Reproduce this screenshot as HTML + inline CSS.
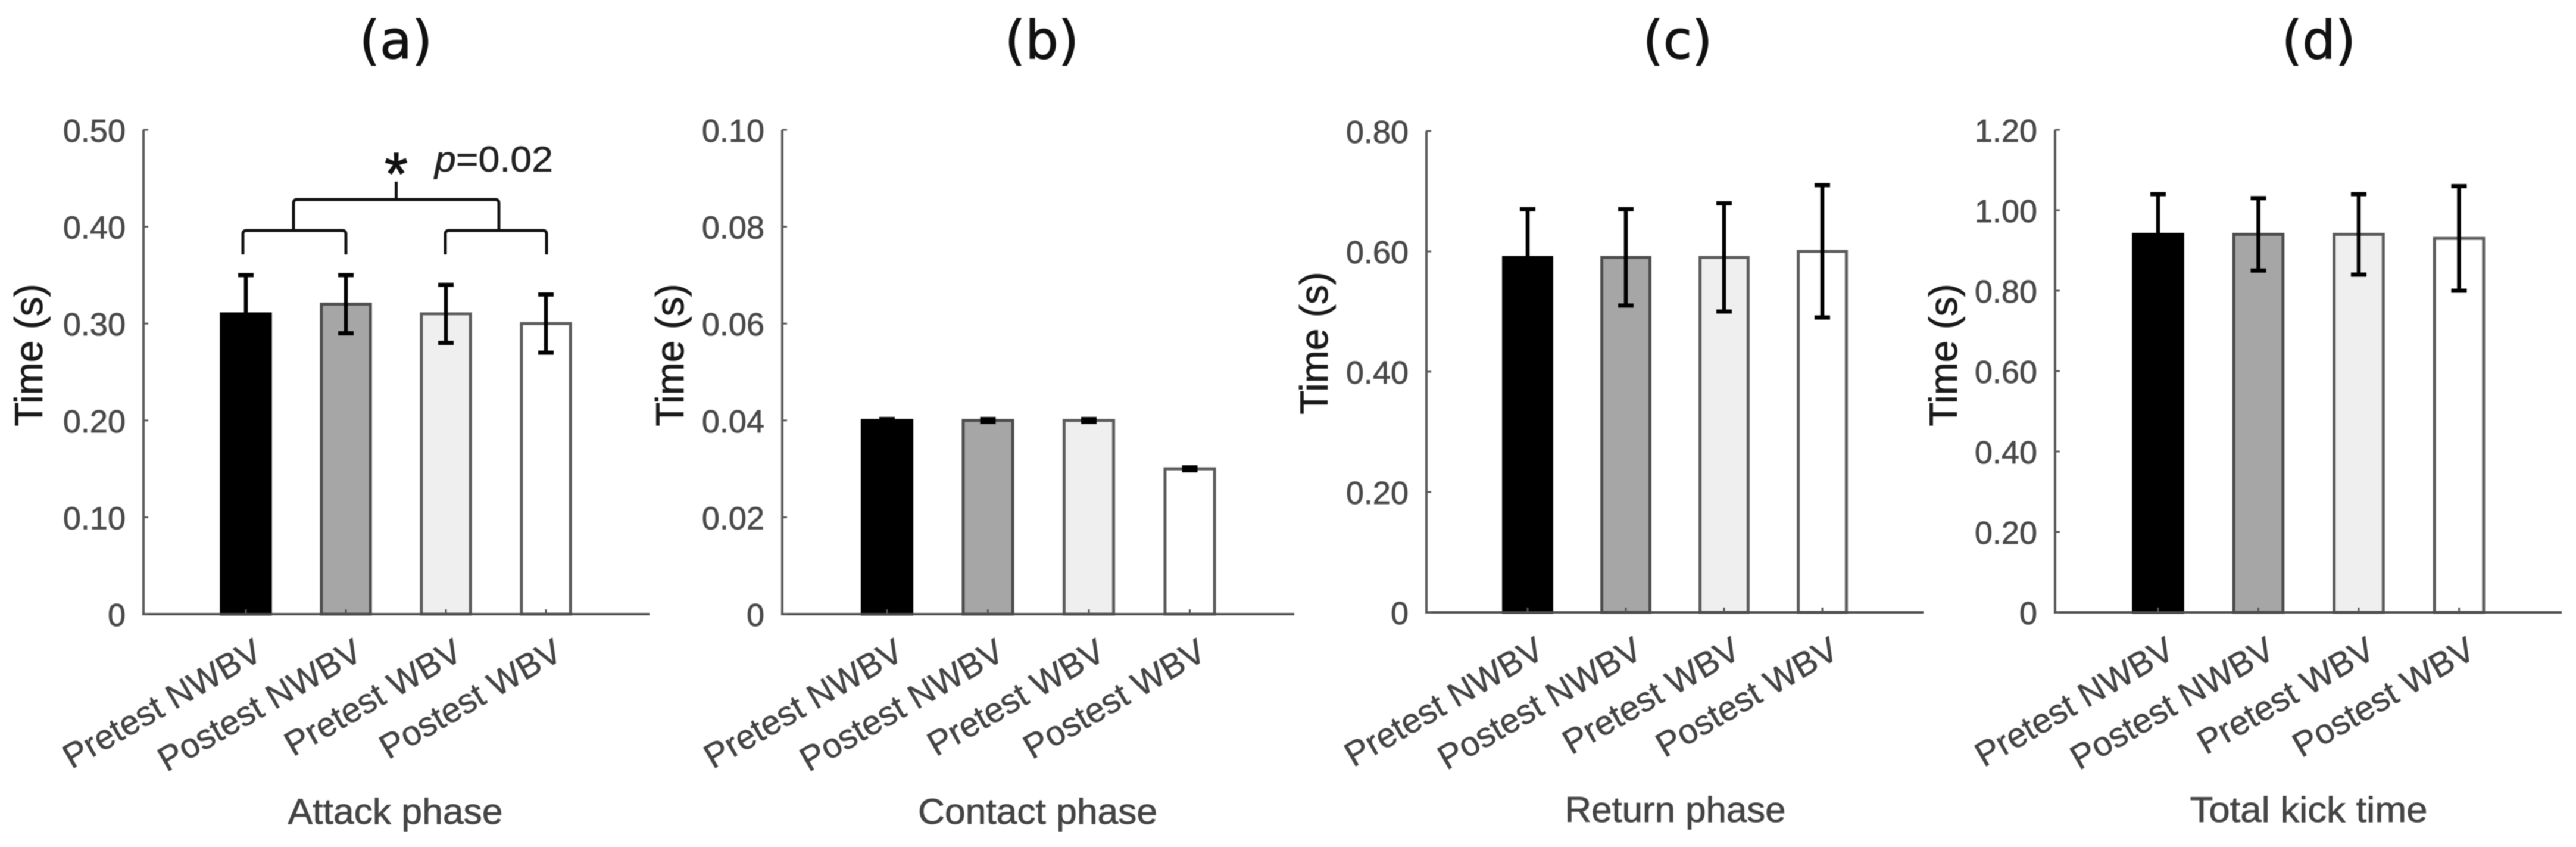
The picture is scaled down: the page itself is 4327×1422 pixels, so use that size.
<!DOCTYPE html>
<html lang="en">
<head>
<meta charset="utf-8">
<title>Kick phase times</title>
<style>
  html, body { margin: 0; padding: 0; background: #fff; width: 4327px; height: 1422px; overflow: hidden; }
  svg { display: block; filter: blur(0.9px); }
  text { font-family: "Liberation Sans", Arial, sans-serif; }
  .panel-title { font-family: "DejaVu Sans", Verdana, sans-serif; font-size: 88px; fill: #111; stroke: #111; stroke-width: 1.2px; text-anchor: middle; }
  .x-title { font-size: 60px; fill: #444; stroke: #444; stroke-width: 0.8px; text-anchor: middle; }
  .y-title { font-size: 66px; fill: #1a1a1a; stroke: #1a1a1a; stroke-width: 0.8px; text-anchor: middle; }
  .tick-label { font-size: 54px; fill: #4a4a4a; stroke: #4a4a4a; stroke-width: 0.8px; text-anchor: end; }
  .cat-label { font-size: 58px; fill: #444; stroke: #444; stroke-width: 0.6px; text-anchor: end; }
</style>
</head>
<body>
<svg id="figure" xmlns="http://www.w3.org/2000/svg" width="4327" height="1422" viewBox="0 0 4327 1422">
  <rect x="0" y="0" width="4327" height="1422" fill="#fff"/>

  <text class="panel-title" x="665" y="98">(a)</text>
  <text class="panel-title" x="1750" y="98">(b)</text>
  <text class="panel-title" x="2818" y="98">(c)</text>
  <text class="panel-title" x="3895" y="98">(d)</text>

  <text class="x-title" x="664" y="1383" textLength="361" lengthAdjust="spacingAndGlyphs">Attack phase</text>
  <text class="x-title" x="1743" y="1383" textLength="402" lengthAdjust="spacingAndGlyphs">Contact phase</text>
  <text class="x-title" x="2814" y="1380" textLength="371" lengthAdjust="spacingAndGlyphs">Return phase</text>
  <text class="x-title" x="3878" y="1380" textLength="399" lengthAdjust="spacingAndGlyphs">Total kick time</text>

  <text class="y-title" transform="translate(71 596) rotate(-90)">Time (s)</text>
  <text class="y-title" transform="translate(1148 596) rotate(-90)">Time (s)</text>
  <text class="y-title" transform="translate(2230 576) rotate(-90)">Time (s)</text>
  <text class="y-title" transform="translate(3287 596) rotate(-90)">Time (s)</text>

  <g id="panel-a"></g>
  <g id="panel-b"></g>
  <g id="panel-c"></g>
  <g id="panel-d"></g>

  <g fill="none" stroke="#111" stroke-width="5">
    <path d="M665.5 305 V335"/>
    <path d="M493 387 V341 Q493 335 499 335 H832 Q838 335 838 341 V387"/>
    <path d="M408 427 V393 Q408 387 414 387 H575 Q581 387 581 393 V427"/>
    <path d="M748 427 V393 Q748 387 754 387 H912 Q918 387 918 393 V427"/>
  </g>
  <text x="665.5" y="326" font-size="100" fill="#111" stroke="#111" stroke-width="1.5" text-anchor="middle">*</text>
  <text x="730" y="288" font-size="60" fill="#222" stroke="#222" stroke-width="0.6" textLength="199" lengthAdjust="spacingAndGlyphs"><tspan font-style="italic">p</tspan>=0.02</text>
</svg>

<script>
// Shared category labels
const categories = ['Pretest NWBV', 'Postest NWBV', 'Pretest WBV', 'Postest WBV'];

// (a) Attack phase
const attackMeans = [0.31, 0.32, 0.31, 0.30];
const attackUpper = [0.35, 0.35, 0.34, 0.33];
const attackLower = [0.27, 0.29, 0.28, 0.27];
const attackTicks = [0, 0.10, 0.20, 0.30, 0.40, 0.50];
const attackTickLabels = ['0', '0.10', '0.20', '0.30', '0.40', '0.50'];

// (b) Contact phase
const contactMeans = [0.04, 0.04, 0.04, 0.03];
const contactUpper = [0.0403, 0.0403, 0.0403, 0.0303];
const contactLower = [0.0397, 0.0397, 0.0397, 0.0297];
const contactTicks = [0, 0.02, 0.04, 0.06, 0.08, 0.10];
const contactTickLabels = ['0', '0.02', '0.04', '0.06', '0.08', '0.10'];

// (c) Return phase
const returnMeans = [0.59, 0.59, 0.59, 0.60];
const returnUpper = [0.67, 0.67, 0.68, 0.71];
const returnLower = [0.51, 0.51, 0.50, 0.49];
const returnTicks = [0, 0.20, 0.40, 0.60, 0.80];
const returnTickLabels = ['0', '0.20', '0.40', '0.60', '0.80'];

// (d) Total kick time
const totalMeans = [0.94, 0.94, 0.94, 0.93];
const totalUpper = [1.04, 1.03, 1.04, 1.06];
const totalLower = [0.84, 0.85, 0.84, 0.80];
const totalTicks = [0, 0.20, 0.40, 0.60, 0.80, 1.00, 1.20];
const totalTickLabels = ['0', '0.20', '0.40', '0.60', '0.80', '1.00', '1.20'];

const NS = 'http://www.w3.org/2000/svg';
const fills = ['#000000', '#a6a6a6', '#efefef', '#ffffff'];
const edges = ['#000000', '#4d4d4d', '#5c5c5c', '#5c5c5c'];

function make(parent, tag, attrs, text) {
  const el = document.createElementNS(NS, tag);
  for (const k in attrs) el.setAttribute(k, attrs[k]);
  if (text !== undefined) el.textContent = text;
  parent.appendChild(el);
  return el;
}

function drawPanel(groupId, frame, means, upper, lower, ticks, tickLabels) {
  const g = document.getElementById(groupId);
  const yMax = ticks[ticks.length - 1];
  const yScale = v => frame.bottom - (v / yMax) * (frame.bottom - frame.top);
  const xScale = i => frame.first + i * frame.step;
  const barW = frame.step * 0.52;

  means.forEach((m, i) => {
    const bar = make(g, 'rect', {
      x: xScale(i) - barW / 2 + 2.5, y: yScale(m),
      width: barW - 5, height: frame.bottom - yScale(m),
      fill: fills[i], stroke: edges[i], 'stroke-width': 5
    });
    
    
  });

  const yAxis = make(g, 'line', { x1: frame.left, x2: frame.left, y1: frame.top, y2: frame.bottom, stroke: '#5a5a5a', 'stroke-width': 4 });
  
  

  const xAxis = make(g, 'line', { x1: frame.left - 2, x2: frame.right, y1: frame.bottom, y2: frame.bottom, stroke: '#4d4d4d', 'stroke-width': 4 });
  
  

  ticks.forEach((t, i) => {
    const y = yScale(t);
    const mark = make(g, 'line', { x1: frame.left, x2: frame.left + 8, y1: y, y2: y, stroke: '#5a5a5a', 'stroke-width': 3 });
    
    
    const label = make(g, 'text', { class: 'tick-label', x: frame.left - 30, y: y + 20 }, tickLabels[i]);
    
    
  });

  categories.forEach((c, i) => {
    const cx = xScale(i);
    const mark = make(g, 'line', { x1: cx, x2: cx, y1: frame.bottom, y2: frame.bottom - 8, stroke: '#555', 'stroke-width': 3 });
    
    
    const ax = cx + 31, ay = frame.bottom + 74;
    const label = make(g, 'text', { class: 'cat-label', transform: 'translate(' + ax + ' ' + ay + ') rotate(-30)' }, c);
    
    
  });

  means.forEach((m, i) => {
    const cx = xScale(i);
    const yUp = yScale(upper[i]), yLo = yScale(lower[i]);
    const stem = make(g, 'line', { x1: cx, x2: cx, y1: yUp, y2: yLo, stroke: '#000', 'stroke-width': 6.5 });
    
    
    const capTop = make(g, 'line', { x1: cx - 13, x2: cx + 13, y1: yUp, y2: yUp, stroke: '#000', 'stroke-width': 7 });
    
    
    const capLow = make(g, 'line', { x1: cx - 13, x2: cx + 13, y1: yLo, y2: yLo, stroke: '#000', 'stroke-width': 7 });
    
    
  });
}

drawPanel('panel-a', { left: 241, right: 1091, top: 218, bottom: 1031, first: 413, step: 168 },
  attackMeans, attackUpper, attackLower, attackTicks, attackTickLabels);
drawPanel('panel-b', { left: 1314, right: 2174, top: 218, bottom: 1031, first: 1490, step: 169.5 },
  contactMeans, contactUpper, contactLower, contactTicks, contactTickLabels);
drawPanel('panel-c', { left: 2396, right: 3231, top: 220, bottom: 1028, first: 2566, step: 165 },
  returnMeans, returnUpper, returnLower, returnTicks, returnTickLabels);
drawPanel('panel-d', { left: 3452, right: 4303, top: 218, bottom: 1028, first: 3625, step: 168.5 },
  totalMeans, totalUpper, totalLower, totalTicks, totalTickLabels);
</script>
</body>
</html>
